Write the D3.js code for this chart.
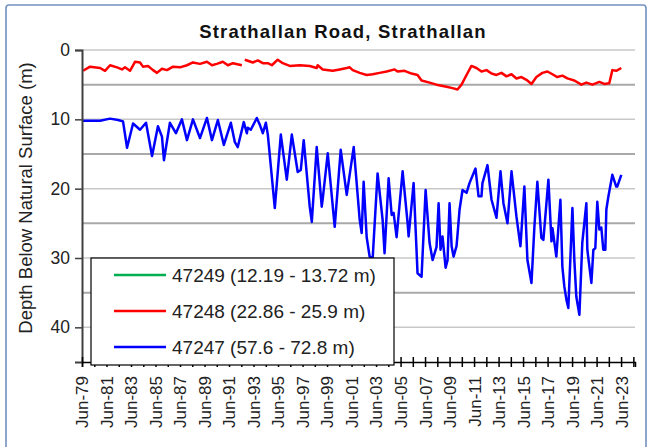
<!DOCTYPE html>
<html lang="en">
<head>
  <meta charset="UTF-8">
  <title>Strathallan Road, Strathallan</title>
  <script src="https://d3js.org/d3.v7.min.js"></script>
</head>
<body style="margin: 0; padding: 0; overflow: hidden; background: #fff;">
  <svg id="chart"></svg>

  <script>
    // series data: decimal year + depth below surface (m)
    const greenYears = [];
    const greenDepth = [];

    const redYears = [1979.50, 1980.07, 1980.89, 1981.29, 1981.70, 1982.27, 1982.68, 1982.92, 1983.33, 1983.74,
      1984.15, 1984.39, 1984.80, 1985.21, 1985.53, 1985.94, 1986.35, 1986.84, 1987.41, 1987.98,
      1988.47, 1989.04, 1989.61, 1990.02, 1990.42, 1990.91, 1991.32, 1991.73, 1992.46, 1992.58,
      1992.70, 1993.36, 1993.76, 1994.17, 1994.58, 1994.91, 1995.39, 1995.80, 1996.37, 1997.19,
      1998.00, 1998.57, 1998.65, 1999.06, 1999.88, 2000.45, 2001.02, 2001.26, 2001.51, 2002.08,
      2002.65, 2003.14, 2003.71, 2004.28, 2004.93, 2005.17, 2005.74, 2006.31, 2006.80, 2007.13,
      2007.78, 2008.35, 2009.17, 2009.66, 2010.06, 2010.39, 2010.80, 2011.20, 2011.61, 2012.02,
      2012.43, 2012.84, 2013.24, 2013.65, 2014.06, 2014.47, 2014.87, 2015.28, 2015.69, 2016.10,
      2016.50, 2016.99, 2017.40, 2017.81, 2018.21, 2018.62, 2019.03, 2019.60, 2020.17, 2020.58,
      2021.07, 2021.64, 2022.04, 2022.45, 2022.70, 2023.02, 2023.43];
    const redDepth = [3.0, 2.4, 2.6, 3.0, 2.2, 2.5, 2.8, 2.5, 3.0, 1.7,
      1.8, 2.4, 2.3, 2.9, 3.3, 2.7, 2.9, 2.4, 2.5, 2.2,
      1.8, 2.0, 1.7, 2.2, 2.0, 1.7, 2.2, 1.9, 2.2, null,
      1.4, 1.8, 1.5, 1.9, 1.9, 2.2, 1.4, 1.9, 2.3, 2.2,
      2.3, 2.6, 2.2, 2.8, 3.0, 2.8, 2.6, 2.5, 2.9, 3.3,
      3.6, 3.5, 3.3, 3.1, 2.8, 3.1, 3.0, 3.4, 3.6, 4.4,
      4.7, 5.0, 5.3, 5.5, 5.7, 5.0, 3.6, 2.3, 2.6, 3.1,
      2.9, 3.4, 3.6, 3.3, 3.8, 3.5, 4.1, 3.9, 4.3, 4.9,
      3.9, 3.3, 3.1, 3.5, 3.9, 3.7, 4.1, 4.4, 5.0, 4.7,
      5.0, 4.6, 4.9, 4.8, 2.9, 3.0, 2.6];

    const blueYears = [1979.42, 1980.89, 1981.70, 1982.35, 1982.76, 1983.09, 1983.58, 1984.15, 1984.64, 1985.13,
      1985.61, 1985.94, 1986.10, 1986.59, 1987.08, 1987.57, 1987.98, 1988.47, 1989.04, 1989.61,
      1990.02, 1990.50, 1990.99, 1991.56, 1991.89, 1992.13, 1992.62, 1992.87, 1992.95, 1993.19,
      1993.68, 1993.93, 1994.17, 1994.42, 1994.58, 1995.15, 1995.64, 1996.13, 1996.54, 1997.02,
      1997.27, 1997.51, 1998.00, 1998.17, 1998.57, 1998.98, 1999.06, 1999.47, 2000.04, 2000.53,
      2001.02, 2001.59, 2002.08, 2002.24, 2002.40, 2002.65, 2002.89, 2003.14, 2003.54, 2003.95,
      2004.11, 2004.44, 2004.69, 2004.85, 2005.09, 2005.58, 2005.99, 2006.07, 2006.48, 2006.80,
      2007.13, 2007.46, 2007.78, 2008.03, 2008.35, 2008.52, 2008.68, 2008.84, 2009.09, 2009.25,
      2009.41, 2009.58, 2009.74, 2009.98, 2010.06, 2010.23, 2010.47, 2010.80, 2011.04, 2011.53,
      2011.78, 2012.02, 2012.10, 2012.51, 2012.84, 2013.24, 2013.57, 2013.81, 2014.14, 2014.47,
      2014.87, 2015.20, 2015.52, 2015.77, 2016.10, 2016.34, 2016.58, 2016.91, 2017.07, 2017.48,
      2017.73, 2017.81, 2018.13, 2018.46, 2018.62, 2018.78, 2018.95, 2019.11, 2019.44, 2019.60,
      2019.76, 2020.01, 2020.25, 2020.58, 2020.66, 2020.99, 2021.15, 2021.31, 2021.47, 2021.64,
      2021.80, 2021.96, 2022.13, 2022.21, 2022.37, 2022.70, 2023.02, 2023.10, 2023.43];
    const blueDepth = [10.2, 10.2, 9.9, 10.1, 10.3, 14.1, 10.6, 11.5, 10.5, 15.3,
      11.0, 12.5, 15.9, 10.5, 12.0, 10.0, 13.0, 10.0, 12.7, 9.8,
      13.0, 10.1, 13.7, 10.5, 13.3, 14.0, 10.4, 12.0, 11.2, 11.5,
      9.8, 10.8, 12.0, 10.5, 12.2, 22.8, 12.2, 18.7, 12.2, 17.6,
      17.3, 13.0, 22.6, 24.8, 14.0, 22.6, 21.5, 14.9, 25.5, 14.4,
      20.9, 14.0, 24.5, 26.4, 19.0, 27.0, 29.8, 30.0, 17.8, 24.5,
      29.3, 18.5, 23.8, 23.5, 27.0, 17.5, 25.0, 26.9, 19.2, 32.2,
      32.7, 20.2, 27.8, 30.3, 28.4, 22.1, 28.8, 26.9, 31.4, 30.3,
      22.1, 28.3, 29.8, 28.3, 26.7, 23.0, 20.2, 20.6, 19.2, 17.1,
      21.1, 21.1, 19.2, 16.6, 21.6, 24.2, 17.5, 22.1, 25.0, 17.5,
      24.0, 28.3, 19.7, 30.3, 33.6, 25.5, 19.0, 27.1, 27.4, 18.7,
      27.6, 25.7, 29.8, 21.6, 31.2, 34.1, 36.0, 37.2, 22.8, 30.3,
      35.6, 38.2, 27.8, 22.1, 28.8, 33.6, 28.8, 28.6, 21.9, 25.9,
      25.6, 28.8, 28.8, 23.0, 21.2, 18.0, 19.7, 19.7, 18.0];

    const seriesNames = ["47249 (12.19 - 13.72 m)", "47248 (22.86 - 25.9 m)", "47247 (57.6 - 72.8 m)"];
    const seriesColors = ["#00b050", "#ff0000", "#0000ff"];
    const yTicks = [0, 10, 20, 30, 40];
    const yMinor = [5, 15, 25, 35];

    const W = 652, H = 447;
    const margin = { left: 82, right: 17, top: 50, bottom: 85 };

    const svg = d3.select("#chart").attr("width", W).attr("height", H)
      .style("font-family", "Arial, 'Liberation Sans', sans-serif");

    // outer frame
    svg.append("rect")
      .attr("x", 6).attr("y", 5).attr("width", 640).attr("height", 446)
      .attr("rx", 3)
      .attr("fill", "#fff").attr("stroke", "#7391c1").attr("stroke-width", 1.6);

    function toDate(y) {
      const yr = Math.floor(y);
      return new Date(yr, 0, 1 + Math.round((y - yr) * 365.25));
    }

    const x = d3.scaleTime()
      .domain([new Date(1979, 5, 1), new Date(2024, 6, 20)])
      .range([margin.left, W - margin.right]);
    const y = d3.scaleLinear()
      .domain([0, 45])
      .range([margin.top, H - margin.bottom]);

    // grid lines
    svg.selectAll(".grid-major")
      .data(yTicks)
      .enter().append("line")
      .attr("x1", margin.left).attr("x2", W - margin.right)
      .attr("y1", d => y(d)).attr("y2", d => y(d))
      .attr("stroke", "#c8c8c8").attr("stroke-width", 1.5);
    svg.selectAll(".grid-minor")
      .data(yMinor)
      .enter().append("line")
      .attr("x1", margin.left).attr("x2", W - margin.right)
      .attr("y1", d => y(d)).attr("y2", d => y(d))
      .attr("stroke", "#a9a9a9").attr("stroke-width", 2);

    // series lines
    const series = [
      greenYears.map((t, i) => ({ t: toDate(t), v: greenDepth[i] })),
      redYears.map((t, i) => ({ t: toDate(t), v: redDepth[i] })),
      blueYears.map((t, i) => ({ t: toDate(t), v: blueDepth[i] }))
    ];
    const line = d3.line()
      .defined(d => d.v != null)
      .x(d => x(d.t))
      .y(d => y(d.v));

    series.forEach((s, i) => {
      svg.append("path")
        .datum(s)
        .attr("fill", "none")
        .attr("stroke", seriesColors[i])
        .attr("stroke-width", 2.5)
        .attr("stroke-linejoin", "round")
        .attr("d", line);
    });

    // y axis
    const yAxis = svg.append("g")
      .attr("transform", `translate(${margin.left},0)`)
      .call(d3.axisLeft(y).tickValues(yTicks).tickSize(7).tickPadding(5));
    yAxis.select(".domain").attr("stroke", "#404040").attr("stroke-width", 2);
    yAxis.selectAll(".tick line").attr("stroke", "#404040").attr("stroke-width", 1.5);
    yAxis.selectAll(".tick text")
      .attr("font-size", 17.5).attr("fill", "#222")
      .style("font-family", "Arial, 'Liberation Sans', sans-serif");

    // x axis
    const xTickDates = d3.range(1979, 2025).map(yr => new Date(yr, 5, 1));
    const fmt = d3.timeFormat("%b-%y");
    const xAxis = svg.append("g")
      .attr("transform", `translate(0,${y(45)})`)
      .call(d3.axisBottom(x).tickValues(xTickDates).tickSize(5)
        .tickFormat(d => (d.getFullYear() - 1979) % 2 === 0 ? fmt(d) : ""));
    xAxis.select(".domain").attr("stroke", "#000").attr("stroke-width", 1.5);
    xAxis.selectAll(".tick line")
      .attr("y1", -5).attr("y2", 5)
      .attr("stroke", "#000").attr("stroke-width", 1.5);
    xAxis.selectAll(".tick text")
      .attr("font-size", 17).attr("fill", "#222")
      .style("font-family", "Arial, 'Liberation Sans', sans-serif")
      .attr("text-anchor", "end")
      .attr("transform", "rotate(-90)")
      .attr("x", -14).attr("y", 0).attr("dy", "0.35em");

    // legend
    const legend = svg.append("g");
    legend.append("rect")
      .attr("x", 91).attr("y", 258).attr("width", 303).attr("height", 107)
      .attr("fill", "#fff").attr("stroke", "#000").attr("stroke-width", 1.2);
    seriesNames.forEach((name, i) => {
      const ly = 275 + i * 36;
      legend.append("line")
        .attr("x1", 114).attr("x2", 166).attr("y1", ly).attr("y2", ly)
        .attr("stroke", seriesColors[i]).attr("stroke-width", 2.5);
      legend.append("text")
        .attr("x", 172).attr("y", ly).attr("dy", "0.36em")
        .attr("font-size", 19).attr("fill", "#222")
        .text(name);
    });

    // title
    svg.append("text")
      .attr("x", 343).attr("y", 38)
      .attr("text-anchor", "middle")
      .attr("font-size", 18.5).attr("font-weight", "bold")
      .attr("letter-spacing", 1.2)
      .attr("fill", "#111")
      .text("Strathallan Road, Strathallan");

    // y axis title
    svg.append("text")
      .attr("transform", "translate(26,198) rotate(-90)")
      .attr("text-anchor", "middle").attr("dy", "0.35em")
      .attr("font-size", 18.5).attr("fill", "#222")
      .text("Depth Below Natural Surface (m)");
  </script>
</body>
</html>
